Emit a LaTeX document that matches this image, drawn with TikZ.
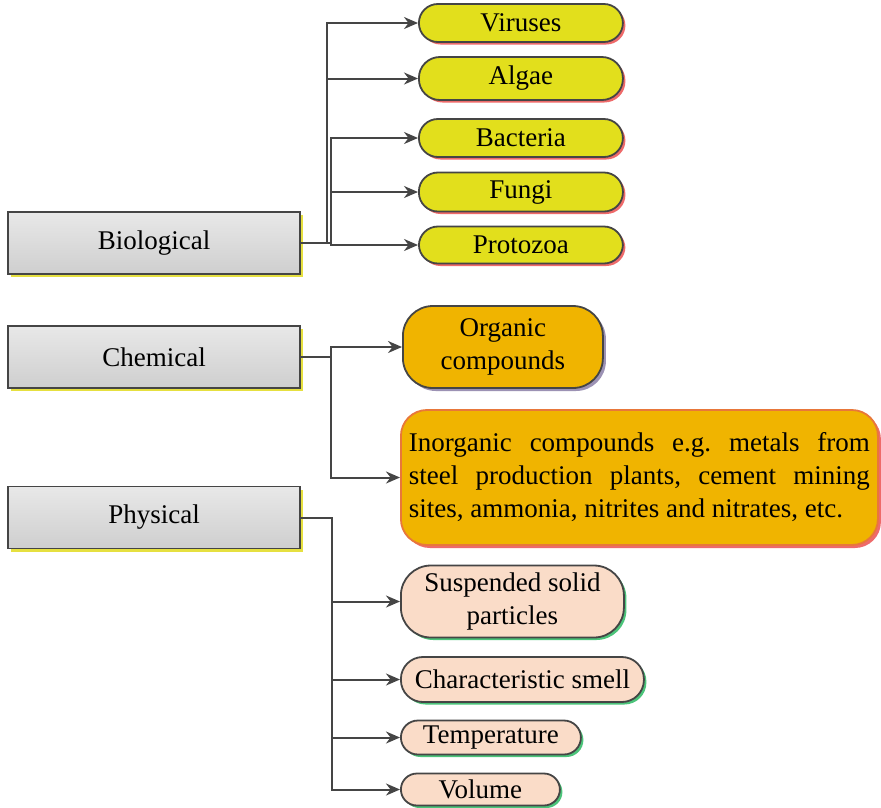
\documentclass[tikz,border=0pt]{standalone}
\usepackage{fontspec}
\setmainfont{Liberation Serif}
\usetikzlibrary{shadows,arrows.meta}

\definecolor{edge}{HTML}{454545}
\definecolor{bioyellow}{HTML}{E2DF1C}
\definecolor{redshade}{HTML}{EE6A6A}
\definecolor{orgfill}{HTML}{F0B400}
\definecolor{orgshade}{HTML}{9C92B4}
\definecolor{inorgedge}{HTML}{E8773A}
\definecolor{peach}{HTML}{FADCC8}
\definecolor{greenshade}{HTML}{4CC47A}
\definecolor{yellowshade}{HTML}{E6E040}

\tikzset{
  every node/.style={font=\fontsize{27}{33}\selectfont},
  category/.style={draw=edge, line width=1.8pt, top color=gray!18, bottom color=gray!38,
    minimum width=292pt, minimum height=62pt, inner sep=0pt,
    drop shadow={shadow xshift=3pt, shadow yshift=-3pt, fill=yellowshade, opacity=1}},
  pill/.style={draw=edge, line width=1.8pt, anchor=west, inner sep=0pt, align=center},
  biobox/.style={pill, fill=bioyellow, minimum width=204pt, rounded corners=19pt,
    drop shadow={shadow xshift=2.5pt, shadow yshift=-2.5pt, fill=redshade, opacity=1}},
  physbox/.style={pill, fill=peach,
    drop shadow={shadow xshift=2.5pt, shadow yshift=-2.5pt, fill=greenshade, opacity=1}},
  conn/.style={draw=edge, line width=2pt, -{Stealth[length=14pt,width=12pt]}},
}

\begin{document}
\frenchspacing
\begin{tikzpicture}[x=1pt, y=-1pt]
  \useasboundingbox[fill=white] (0,0) rectangle (881,807);

  % three main categories
  \node[category] (bio)  at (154,243)   {Biological};
  \node[category] (chem) at (154,357)   {Chemical};
  \node[category] (phys) at (154,517.5) {Physical};

  % biological contaminants
  \node[biobox, minimum height=38pt] (vir)  at (418,23)   {Viruses};
  \node[biobox, minimum height=43pt, rounded corners=21pt] (alg) at (418,78.5) {Algae};
  \node[biobox, minimum height=38pt] (bac)  at (418,138)  {Bacteria};
  \node[biobox, minimum height=39pt] (fun)  at (418,192)  {Fungi};
  \node[biobox, minimum height=37pt] (pro)  at (418,245)  {Protozoa};

  % chemical contaminants
  \node[pill, fill=orgfill, minimum width=200pt, minimum height=82pt, rounded corners=30pt,
    drop shadow={shadow xshift=3pt, shadow yshift=-3pt, fill=orgshade, opacity=1}]
    (org) at (402,347) {Organic\\compounds};
  \node[pill, draw=inorgedge, fill=orgfill, minimum width=477pt, minimum height=135pt,
    rounded corners=26pt, text width=461pt, align=justify, inner xsep=8pt,
    drop shadow={shadow xshift=3pt, shadow yshift=-3pt, fill=redshade, opacity=1}]
    (inorg) at (400,477.5) {Inorganic compounds e.g. metals from steel production plants, cement mining sites, ammonia, nitrites and nitrates, etc.\par};

  % physical contaminants
  \node[physbox, minimum width=223pt, minimum height=72pt, rounded corners=30pt]
    (sus) at (400,601.5) {Suspended solid\\particles};
  \node[physbox, minimum width=243pt, minimum height=45pt, rounded corners=22pt]
    (sme) at (400,679.5) {Characteristic smell};
  \node[physbox, minimum width=180pt, minimum height=34pt, rounded corners=17pt]
    (tem) at (400,737.5) {Temperature};
  \node[physbox, minimum width=159pt, minimum height=32pt, rounded corners=16pt]
    (vol) at (400,789.5) {Volume};

  % connectors
  \draw[conn] (bio.east) -- ++(26,0) |- (vir.west);
  \draw[conn] (bio.east) -- ++(26,0) |- (alg.west);
  \draw[conn] (bio.east) -- ++(30,0) |- (bac.west);
  \draw[conn] (bio.east) -- ++(30,0) |- (fun.west);
  \draw[conn] (bio.east) -- ++(30,0) |- (pro.west);

  \draw[conn] (chem.east) -- ++(30,0) |- (org.west);
  \draw[conn] (chem.east) -- ++(30,0) |- (inorg.west);

  \draw[conn] (phys.east) -- ++(31,0) |- (sus.west);
  \draw[conn] (phys.east) -- ++(31,0) |- (sme.west);
  \draw[conn] (phys.east) -- ++(31,0) |- (tem.west);
  \draw[conn] (phys.east) -- ++(31,0) |- (vol.west);
\end{tikzpicture}
\end{document}
